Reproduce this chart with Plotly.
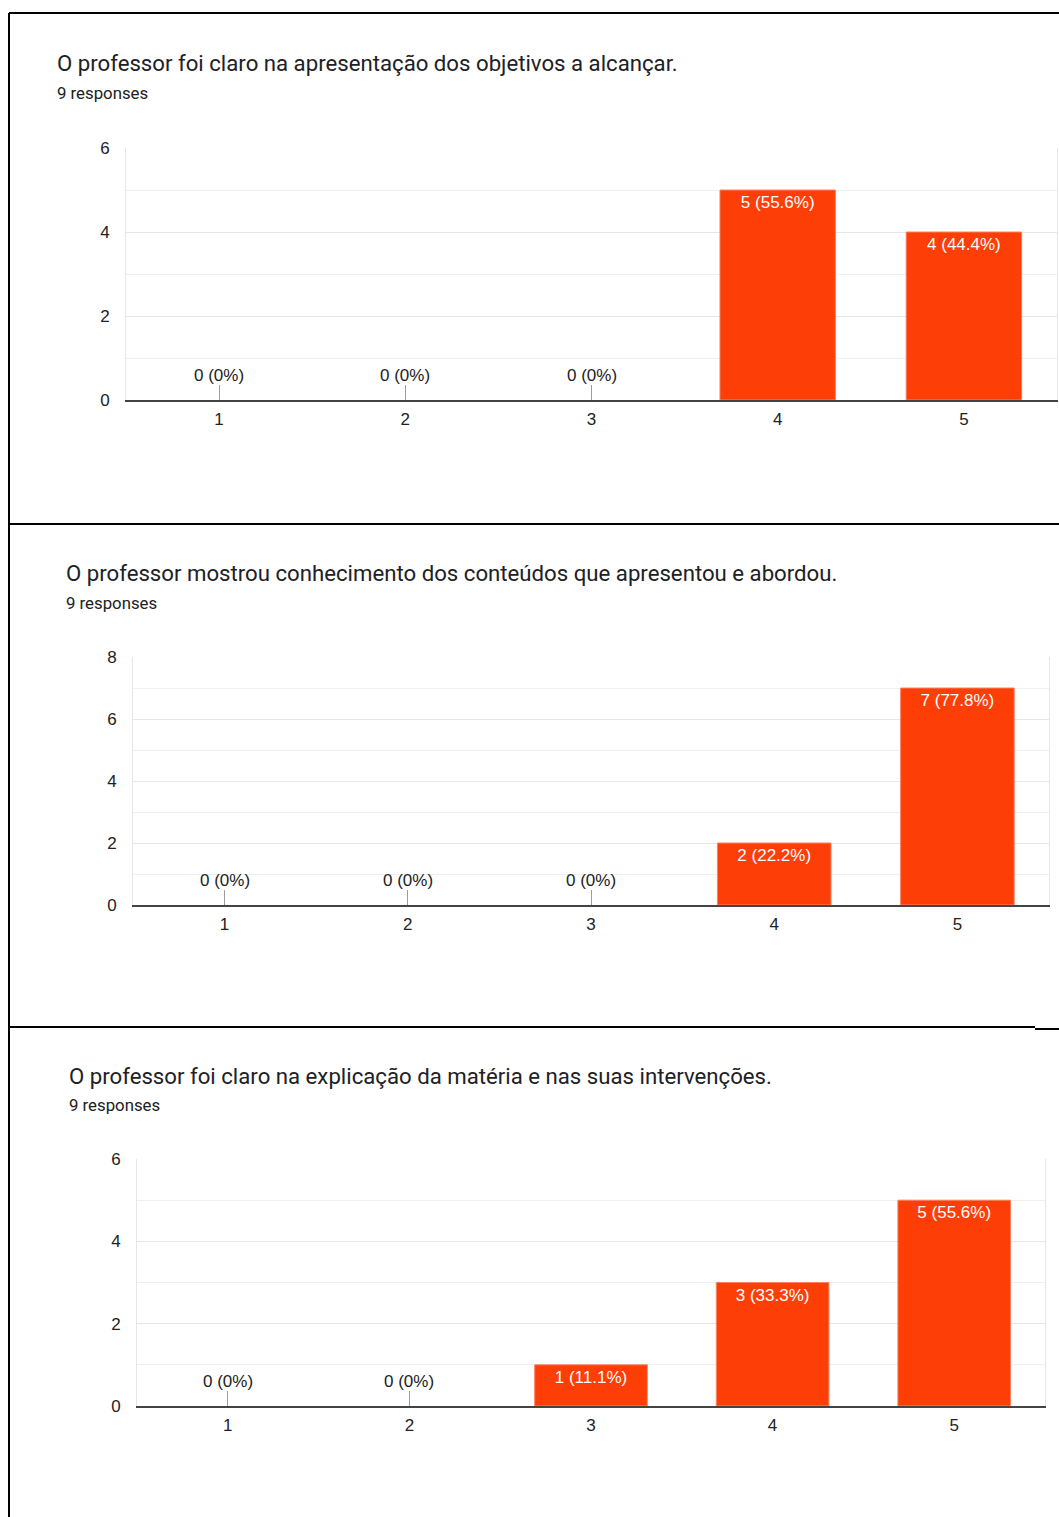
import plotly.graph_objects as go

W, H = 1059, 1517

categories = [1, 2, 3, 4, 5]
total_responses = 9

titles = [
    "O professor foi claro na apresentação dos objetivos a alcançar.",
    "O professor mostrou conhecimento dos conteúdos que apresentou e abordou.",
    "O professor foi claro na explicação da matéria e nas suas intervenções.",
]
counts_q1 = [0, 0, 0, 5, 4]
counts_q2 = [0, 0, 0, 2, 7]
counts_q3 = [0, 0, 1, 3, 5]
y_max = [6, 8, 6]

# layout (pixel boxes): left, right, top, bottom of plot area; title x, title y, subtitle y
boxes = [
    dict(l=126, r=1057, t=148, b=400, tx=55, ty=63, sy=93),
    dict(l=133, r=1049, t=657, b=905, tx=64, ty=573, sy=603),
    dict(l=137, r=1045, t=1159, b=1406, tx=67, ty=1076, sy=1105),
]

BAR = "#fd3e07"
TITLE_FONT = "Roboto"
CHART_FONT = "Liberation Sans, Arial"


def px_x(p):
    return p / W


def px_y(p):
    return 1 - p / H


def label(v):
    pct = v / total_responses * 100
    if v == 0:
        return "0 (0%)"
    return f"{v} ({pct:.1f}%)"


fig = go.Figure()
annotations = []
all_counts = [counts_q1, counts_q2, counts_q3]

for i, (counts, box, title, ym) in enumerate(zip(all_counts, boxes, titles, y_max)):
    n = "" if i == 0 else str(i + 1)
    xa, ya = "x" + n, "y" + n
    fig.add_trace(go.Bar(
        x=categories, y=counts, xaxis=xa, yaxis=ya,
        marker=dict(color=BAR, line=dict(width=[1 if v > 0 else 0 for v in counts], color="#ff8060")),
        width=0.62,
        text=[label(v) if v > 0 else "" for v in counts],
        textposition="inside", insidetextanchor="end", textangle=0,
        insidetextfont=dict(family=CHART_FONT, size=17, color="white"),
        constraintext="none", cliponaxis=False,
        showlegend=False, hoverinfo="skip",
    ))
    for c, v in zip(categories, counts):
        if v == 0:
            annotations.append(dict(
                x=c, y=0, xref=xa, yref=ya, text=label(v), showarrow=False,
                yanchor="middle", yshift=25,
                font=dict(family=CHART_FONT, size=17, color="#222222"),
            ))
    fig.layout["xaxis" + n] = dict(
        domain=[px_x(box["l"]), px_x(box["r"])], anchor=ya,
        range=[0.5, 5.5], tickmode="array", tickvals=categories,
        ticktext=[str(c) for c in categories],
        ticks="inside", ticklen=15, tickcolor="#9e9e9e", tickwidth=1,
        showline=True, linecolor="#444444", linewidth=1.5,
        showgrid=False, zeroline=False, layer="below traces",
        tickfont=dict(family=CHART_FONT, size=17, color="#222222"),
        ticklabelstandoff=3, fixedrange=True, automargin=False,
    )
    fig.layout["yaxis" + n] = dict(
        domain=[px_y(box["b"]), px_y(box["t"])], anchor=xa,
        range=[0, ym], dtick=2, tick0=0,
        showgrid=True, gridcolor="#e6e6e6", gridwidth=1,
        minor=dict(dtick=1, showgrid=True, gridcolor="#efefef", gridwidth=1),
        showline=True, linecolor="#e6e6e6", linewidth=1, mirror=True,
        zeroline=False, ticks="", layer="below traces",
        tickfont=dict(family=CHART_FONT, size=17, color="#222222"),
        ticklabelstandoff=12, fixedrange=True, automargin=False,
    )
    annotations.append(dict(
        x=px_x(box["tx"]), y=px_y(box["ty"]), xref="paper", yref="paper",
        xanchor="left", yanchor="middle", text=title, showarrow=False,
        font=dict(family=TITLE_FONT, size=22.2, color="#202124"),
    ))
    annotations.append(dict(
        x=px_x(box["tx"]), y=px_y(box["sy"]), xref="paper", yref="paper",
        xanchor="left", yanchor="middle", text=f"{total_responses} responses",
        showarrow=False, font=dict(family=TITLE_FONT, size=16.8, color="#202124"),
    ))

line_style = dict(color="black", width=2)
shapes = [
    dict(type="line", xref="paper", yref="paper", x0=px_x(9), x1=px_x(9), y0=px_y(13), y1=0, line=line_style),
    dict(type="line", xref="paper", yref="paper", x0=px_x(9), x1=1, y0=px_y(13), y1=px_y(13), line=line_style),
    dict(type="line", xref="paper", yref="paper", x0=px_x(9), x1=1, y0=px_y(524), y1=px_y(524), line=line_style),
    dict(type="line", xref="paper", yref="paper", x0=px_x(9), x1=px_x(1035), y0=px_y(1027), y1=px_y(1027), line=line_style),
    dict(type="line", xref="paper", yref="paper", x0=px_x(1035), x1=1, y0=px_y(1029), y1=px_y(1029), line=line_style),
]

fig.update_layout(
    width=W, height=H, margin=dict(l=0, r=0, t=0, b=0, pad=0, autoexpand=False),
    paper_bgcolor="white", plot_bgcolor="white",
    annotations=annotations, shapes=shapes,
    font=dict(family=CHART_FONT), showlegend=False,
)

fig.write_html(
    "out.html",
    config={"displayModeBar": False},
    post_script="document.body.style.margin='0';document.body.style.overflow='hidden';",
)
